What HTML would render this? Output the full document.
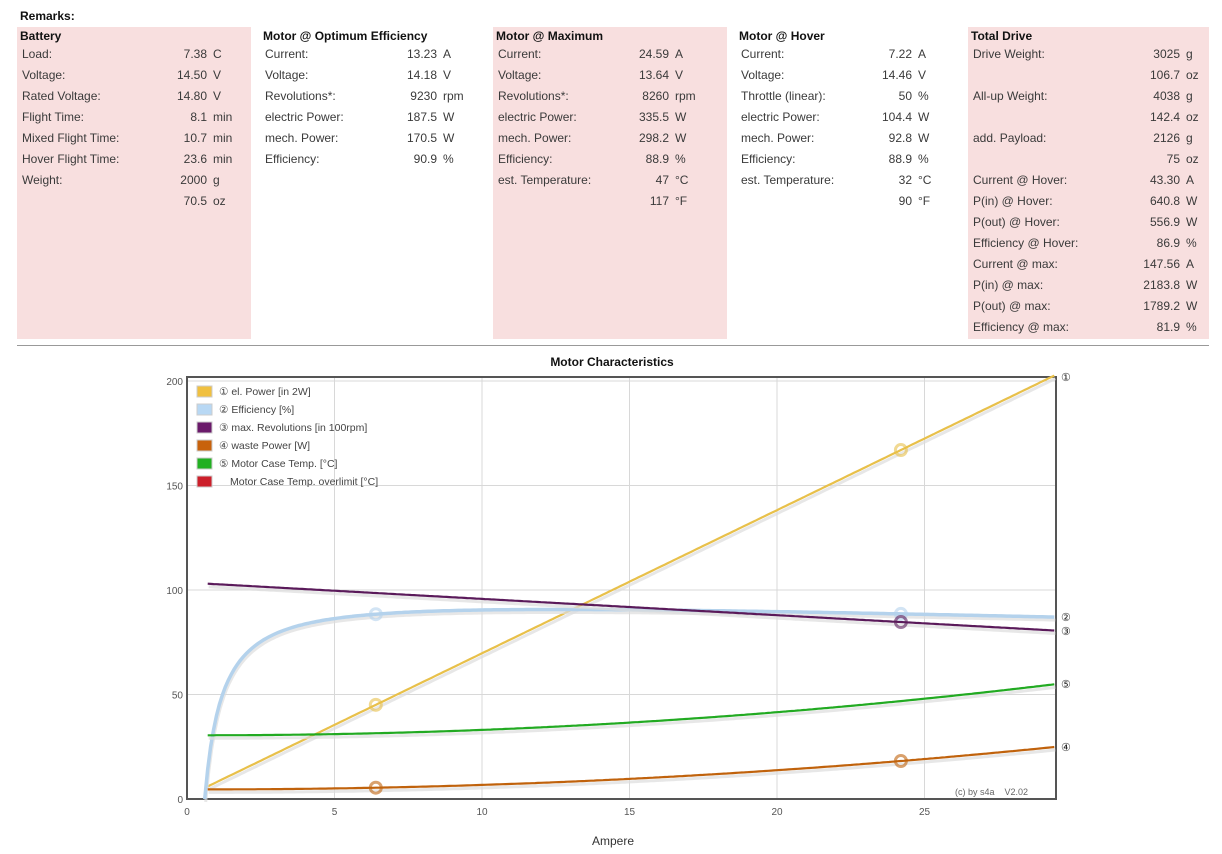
<!DOCTYPE html>
<html><head><meta charset="utf-8"><style>
body{margin:0;background:#fff;width:1222px;height:854px;overflow:hidden}
svg{display:block;font-family:"Liberation Sans",Arial,sans-serif}
</style></head><body>
<svg id="s" width="1222" height="854" xmlns="http://www.w3.org/2000/svg">
<rect x="17" y="27" width="234" height="312" fill="#f8dfdf"/>
<rect x="493" y="27" width="234" height="312" fill="#f8dfdf"/>
<rect x="968" y="27" width="241" height="312" fill="#f8dfdf"/>
<line x1="17" y1="345.5" x2="1209" y2="345.5" stroke="#999" stroke-width="1"/>
<text x="20" y="20" font-size="12" font-weight="bold" fill="#111">Remarks:</text>
<g id="tables" font-size="12" fill="#3a3a3a"></g>
<text x="612" y="366" font-size="12" font-weight="bold" text-anchor="middle" fill="#111">Motor Characteristics</text>
<g id="grid" stroke="#d8d8d8" stroke-width="1"></g>
<g id="ticks" font-size="10" fill="#555"></g>
<rect x="187" y="377" width="869" height="422" fill="none" stroke="#555" stroke-width="2"/>
<g id="series" fill="none"></g>
<g id="legend" font-size="10.5" fill="#444"></g>
<text x="955" y="795" font-size="9" fill="#666">(c) by s4a&#160;&#160;&#160; V2.02</text>
<text x="613" y="845" font-size="12" text-anchor="middle" fill="#333">Ampere</text>
<g id="endl" font-size="11" fill="#222"></g>
</svg>
<script>
var NS="http://www.w3.org/2000/svg";
function el(p,t,a,txt){var e=document.createElementNS(NS,t);for(var k in a)e.setAttribute(k,a[k]);if(txt!=null)e.textContent=txt;document.getElementById(p).appendChild(e);return e;}
var cols=[
[20,207,"Battery",[["Load:","7.38","C"],["Voltage:","14.50","V"],["Rated Voltage:","14.80","V"],["Flight Time:","8.1","min"],["Mixed Flight Time:","10.7","min"],["Hover Flight Time:","23.6","min"],["Weight:","2000","g"],["","70.5","oz"]]],
[263,437,"Motor @ Optimum Efficiency",[["Current:","13.23","A"],["Voltage:","14.18","V"],["Revolutions*:","9230","rpm"],["electric Power:","187.5","W"],["mech. Power:","170.5","W"],["Efficiency:","90.9","%"]]],
[496,669,"Motor @ Maximum",[["Current:","24.59","A"],["Voltage:","13.64","V"],["Revolutions*:","8260","rpm"],["electric Power:","335.5","W"],["mech. Power:","298.2","W"],["Efficiency:","88.9","%"],["est. Temperature:","47","\u00b0C"],["","117","\u00b0F"]]],
[739,912,"Motor @ Hover",[["Current:","7.22","A"],["Voltage:","14.46","V"],["Throttle (linear):","50","%"],["electric Power:","104.4","W"],["mech. Power:","92.8","W"],["Efficiency:","88.9","%"],["est. Temperature:","32","\u00b0C"],["","90","\u00b0F"]]],
[971,1180,"Total Drive",[["Drive Weight:","3025","g"],["","106.7","oz"],["All-up Weight:","4038","g"],["","142.4","oz"],["add. Payload:","2126","g"],["","75","oz"],["Current @ Hover:","43.30","A"],["P(in) @ Hover:","640.8","W"],["P(out) @ Hover:","556.9","W"],["Efficiency @ Hover:","86.9","%"],["Current @ max:","147.56","A"],["P(in) @ max:","2183.8","W"],["P(out) @ max:","1789.2","W"],["Efficiency @ max:","81.9","%"]]]];
cols.forEach(function(c){
 el("tables","text",{x:c[0],y:40,"font-weight":"bold",fill:"#111"},c[2]);
 c[3].forEach(function(r,i){var y=58+i*21;
  el("tables","text",{x:c[0]+2,y:y},r[0]);
  el("tables","text",{x:c[1],y:y,"text-anchor":"end"},r[1]);
  el("tables","text",{x:c[1]+6,y:y},r[2]);});
});
function X(v){return 187+v*29.5;} function Y(v){return 799-v*2.09;}
[5,10,15,20,25].forEach(function(v){el("grid","line",{x1:X(v),y1:377,x2:X(v),y2:799});});
[50,100,150,200].forEach(function(v){el("grid","line",{x1:187,y1:Y(v),x2:1056,y2:Y(v)});});
[0,5,10,15,20,25].forEach(function(v){el("ticks","text",{x:X(v),y:815,"text-anchor":"middle"},v);});
[0,50,100,150,200].forEach(function(v){el("ticks","text",{x:183,y:Y(v)+4,"text-anchor":"end"},v);});
function path(f,a,b){var d="";for(var i=a;i<=b+1e-9;i+=0.1){d+=(d?"L":"M")+X(i).toFixed(1)+","+Y(f(i)).toFixed(1);}return d;}
function eff(I){return Math.max(0,100*(1-0.6/I)*(1-I*0.055/14.5));}
var S=[
[function(I){return 6+(I-0.7)*6.85;},"#e8c04a",0.7],
[eff,"#b4d2ec",0.6],
[function(I){return 103-(I-0.7)*0.78;},"#5a1a5a",0.7],
[function(I){return 4.6+0.0246*(I-0.7)*(I-0.7);},"#c0620c",0.7],
[function(I){return 30.5+0.0296*(I-0.7)*(I-0.7);},"#22aa22",0.7]];
S.forEach(function(s,i){var d=path(s[0],s[2],29.45);
 el("series","path",{d:d,stroke:"#ddd",transform:"translate(1,3)","stroke-width":3,opacity:0.7});
 el("series","path",{d:d,stroke:s[1],"stroke-width":i==1?3.5:2.2});});
[[0,6.4],[0,24.2],[1,6.4],[1,24.2],[2,24.2],[3,6.4],[3,24.2]].forEach(function(m){
 el("series","circle",{cx:X(m[1]),cy:Y(S[m[0]][0](m[1])),r:5.5,stroke:S[m[0]][1],"stroke-width":3,opacity:0.6});});
var lg=[["#f0c040","\u2460 el. Power [in 2W]"],["#b8d8f4","\u2461 Efficiency [%]"],["#6a1a6a","\u2462 max. Revolutions [in 100rpm]"],["#c8620c","\u2463 waste Power [W]"],["#22b022","\u2464 Motor Case Temp. [\u00b0C]"],["#cc1f2a","Motor Case Temp. overlimit [\u00b0C]"]];
lg.forEach(function(l,i){var y=386+i*18;
 el("legend","rect",{x:197,y:y,width:15,height:11,fill:l[0],stroke:"#ccc","stroke-width":1});
 el("legend","text",{x:i==5?230:219,y:y+9},l[1]);});
[["\u2460",202],["\u2461",eff(29.45)],["\u2462",80.5],["\u2463",25],["\u2464",55]].forEach(function(e){
 el("endl","text",{x:1061,y:Y(e[1])+4},e[0]);});
</script>
</body></html>
